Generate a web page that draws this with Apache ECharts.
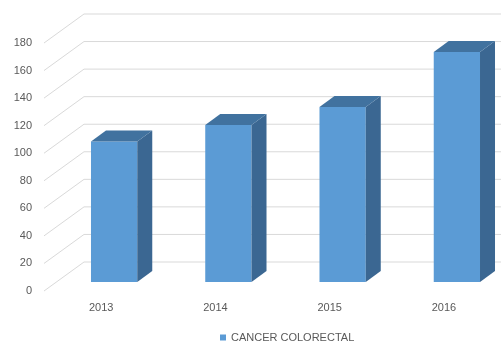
<!DOCTYPE html>
<html>
<head>
<meta charset="utf-8">
<script src="https://cdn.jsdelivr.net/npm/echarts@6/dist/echarts.min.js"></script>
<style>
html,body{margin:0;padding:0;background:#fff;}
#chart{width:501px;height:344px;}
</style>
</head>
<body>
<div id="chart"></div>
<script>
var categories = ['2013', '2014', '2015', '2016'];
var values = [102, 114, 127, 167];
var seriesName = 'CANCER COLORECTAL';
var yTicks = [0, 20, 40, 60, 80, 100, 120, 140, 160, 180];

var chart = echarts.init(document.getElementById('chart'), null, {renderer: 'canvas'});

var wallDx = 40, wallDy = -29;      // back wall offset
var barDx = 13, barDy = -9;         // bar front-face depth offset
var sideDx = 15, sideDy = -11;      // bar depth
var gridColor = '#D9D9D9';

chart.setOption({
  animation: false,
  backgroundColor: '#ffffff',
  grid: {left: 44, top: 43, width: 462, height: 248},
  legend: {
    data: [{name: seriesName, icon: 'rect'}],
    left: 220, top: 332,
    itemWidth: 6, itemHeight: 6, itemGap: 4,
    textStyle: {color: '#595959', fontSize: 11, fontFamily: 'Liberation Sans'},
    padding: 0
  },
  xAxis: {
    type: 'category', data: categories,
    axisLine: {show: false}, axisTick: {show: false}, splitLine: {show: false},
    axisLabel: {color: '#595959', fontSize: 11, fontFamily: 'Liberation Sans', margin: 11}
  },
  yAxis: {
    type: 'value', min: 0, max: 180, interval: 20,
    axisLine: {show: false}, axisTick: {show: false}, splitLine: {show: false},
    axisLabel: {color: '#595959', fontSize: 11, fontFamily: 'Liberation Sans', margin: 12}
  },
  series: [
    {
      type: 'custom', name: 'grid', silent: true, clip: false, z: 1,
      encode: {x: 0, y: 1},
      data: yTicks.map(function (t) { return [0, t]; }),
      renderItem: function (params, api) {
        var cs = params.coordSys;
        var p = api.coord([api.value(0), api.value(1)]);
        var x0 = cs.x, y0 = p[1];
        return {
          type: 'polyline',
          shape: {points: [[x0, y0], [x0 + wallDx, y0 + wallDy], [cs.x + cs.width, y0 + wallDy]]},
          style: {stroke: gridColor, lineWidth: 1, fill: null}
        };
      }
    },
    {
      type: 'custom', name: seriesName, clip: false, z: 2,
      itemStyle: {color: '#5B9BD5'},
      encode: {x: 0, y: 1},
      data: values.map(function (v, i) { return [i, v]; }),
      renderItem: function (params, api) {
        var i = api.value(0), v = api.value(1);
        var top = api.coord([i, v]);
        var bot = api.coord([i, 0]);
        var w = api.size([1, 0])[0] * 0.405;
        var x = top[0] + barDx - w / 2;
        var yt = top[1] + barDy, yb = bot[1] + barDy;
        return {
          type: 'group',
          children: [
            {type: 'rect', shape: {x: x, y: yt, width: w, height: yb - yt},
             style: {fill: '#5B9BD5'}},
            {type: 'polygon', shape: {points: [[x + w, yt], [x + w + sideDx, yt + sideDy], [x + w + sideDx, yb + sideDy], [x + w, yb]]},
             style: {fill: '#3B6792'}},
            {type: 'polygon', shape: {points: [[x, yt], [x + sideDx, yt + sideDy], [x + w + sideDx, yt + sideDy], [x + w, yt]]},
             style: {fill: '#41729F'}}
          ]
        };
      }
    }
  ]
});
</script>
</body>
</html>
